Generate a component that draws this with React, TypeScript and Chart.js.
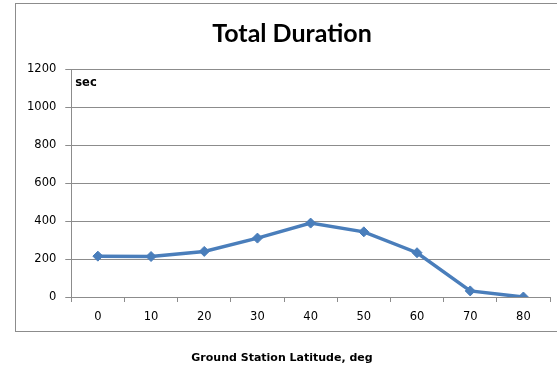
import React, { useEffect, useRef } from "react";
import { Chart, registerables } from "chart.js";

Chart.register(...registerables);

const categories = ["0", "10", "20", "30", "40", "50", "60", "70", "80"];
const durationSec = [215, 213, 240, 310, 389, 343, 233, 32, 0];
const yTicks = [0, 200, 400, 600, 800, 1000, 1200];
const titleText = "Total Duration";
const xTitleText = "Ground Station Latitude, deg";
const yUnitText = "sec";

const frameAndUnit = {
  id: "frameAndUnit",
  beforeDraw(chart: any) {
    const ctx = chart.ctx;
    ctx.save();
    ctx.fillStyle = "#ffffff";
    ctx.fillRect(0, 0, chart.width, chart.height);
    ctx.strokeStyle = "#8c8c8c";
    ctx.lineWidth = 1;
    ctx.strokeRect(15.5, 3.5, 600, 328);
    ctx.restore();
  },
  afterDraw(chart: any) {
    const ctx = chart.ctx;
    const area = chart.chartArea;
    ctx.save();
    ctx.fillStyle = "#000000";
    ctx.textBaseline = "middle";
    ctx.textAlign = "center";
    ctx.font = "bold 25px Lato";
    ctx.fillText(titleText, 292, 34);
    ctx.font = "bold 11px 'DejaVu Sans'";
    ctx.fillText(xTitleText, 282, 358);
    ctx.font = "bold 11.5px 'DejaVu Sans'";
    ctx.textAlign = "left";
    ctx.fillText(yUnitText, area.left + 4, area.top + 14);
    ctx.restore();
  },
};

export default function App() {
  const ref = useRef<HTMLCanvasElement>(null);
  useEffect(() => {
    document.body.style.margin = "0";
    const chart = new Chart(ref.current as HTMLCanvasElement, {
      type: "line",
      data: {
        labels: categories,
        datasets: [
          {
            data: durationSec,
            borderColor: "#4a7ebb",
            backgroundColor: "#4a7ebb",
            borderWidth: 3.5,
            pointStyle: "rectRot",
            pointRadius: 5,
            pointBorderWidth: 1,
            tension: 0,
          },
        ],
      },
      options: {
        animation: false,
        responsive: false,
        layout: { padding: { left: 18, right: 7, top: 69, bottom: 35.2 } },
        plugins: {
          legend: { display: false },
          tooltip: { enabled: false },
          title: { display: false },
        },
        scales: {
          x: {
            offset: true,
            grid: {
              offset: true,
              drawOnChartArea: false,
              tickLength: 5,
              color: "#8c8c8c",
            },
            border: { color: "#8c8c8c" },
            ticks: {
              color: "#000000",
              font: { family: "DejaVu Sans", size: 11.5 },
              padding: 8,
            },
            title: { display: false },
          },
          y: {
            min: 0,
            max: 1200,
            afterBuildTicks: (scale: any) => {
              scale.ticks = yTicks.map((v) => ({ value: v }));
            },
            grid: { color: "#8c8c8c", tickLength: 6 },
            border: { color: "#8c8c8c" },
            ticks: {
              color: "#000000",
              font: { family: "DejaVu Sans", size: 11.5 },
              padding: 9,
              callback: (v: any) => String(v),
            },
          },
        },
      },
      plugins: [frameAndUnit],
    });
    return () => chart.destroy();
  }, []);
  return (
    <div style={{ width: 557, height: 367 }}>
      <canvas ref={ref} width={557} height={367} />
    </div>
  );
}
